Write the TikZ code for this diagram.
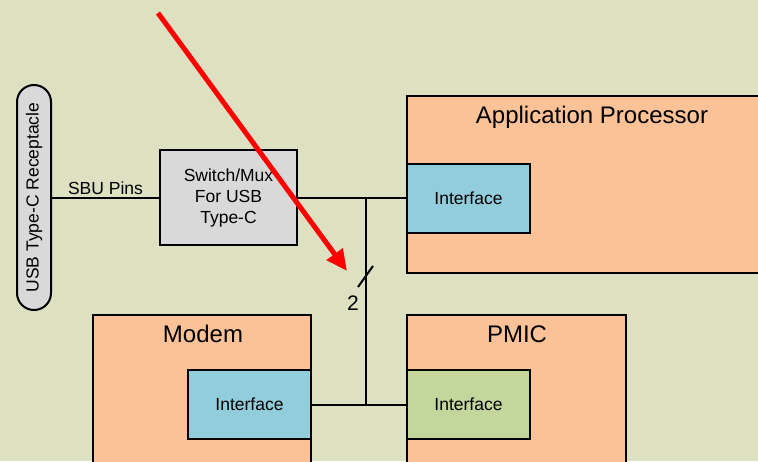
\documentclass[tikz,border=0pt]{standalone}
\usepackage{fontspec}
\setmainfont{Liberation Sans}
\usepackage{tikz}
\usetikzlibrary{positioning, arrows.meta, calc}
\definecolor{pagebg}{RGB}{222,224,194}
\definecolor{chipfill}{RGB}{250,194,150}
\definecolor{ifblue}{RGB}{146,205,220}
\definecolor{ifgreen}{RGB}{195,214,155}
\definecolor{muxgray}{RGB}{217,217,217}

\begin{document}
\begin{tikzpicture}[x=1pt, y=-1pt, line width=2pt,
    every node/.style={font=\fontsize{17.5}{21}\selectfont},
    chip/.style={draw, fill=chipfill, anchor=north west, inner sep=0pt},
    iface/.style={draw, fill=ifblue, anchor=north west, inner sep=0pt,
        minimum width=123pt, minimum height=69pt},
    chiptitle/.style={font=\fontsize{24}{28}\selectfont}]

    % Background and frame
    \fill[pagebg] (0,0) rectangle (758,461);
    \clip (0,0) rectangle (758,461);

    % Chips
    \node[chip, minimum width=372pt, minimum height=177pt] (ap) at (406,95) {};
    \node[chiptitle] at (592,117) {Application Processor};
    \node[chip, minimum width=218pt, minimum height=170pt] (modem) at (92,314) {};
    \node[chiptitle] at (203,334) {Modem};
    \node[chip, minimum width=219pt, minimum height=170pt] (pmic) at (406,314) {};
    \node[chiptitle] at (517,334) {PMIC};

    % Interfaces
    \node[iface] (apif) at (406,163) {};
    \node at (apif.center) {Interface};
    \node[iface] (modif) at (187,369) {};
    \node at (modif.center) {Interface};
    \node[iface, fill=ifgreen] (pmif) at (406,369) {};
    \node at (pmif.center) {Interface};

    % Receptacle and switch
    \node[draw, fill=muxgray, rounded corners=17pt, minimum width=34pt,
        minimum height=225pt, inner sep=0pt] (usb) at (34,197.5) {};
    \node[rotate=90] at (usb.center) {USB Type-C Receptacle};
    \node[draw, fill=muxgray, minimum width=137pt, minimum height=95pt,
        inner sep=0pt, align=center] (mux) at (228.5,197.5)
        {Switch/Mux\\For USB\\Type-C};

    % Connections
    \draw (usb.east) -- node[above=-1pt] {SBU Pins} (mux.west);
    \draw (mux.east) -- (mux.east -| apif.west);
    \draw (modif.east) -- (pmif.west);
    \coordinate (bus) at (366,0);
    \draw (bus |- apif.west) -- (bus |- pmif.west);

    % Bus width mark
    \coordinate (tick) at (366,276);
    \draw ([shift={(-8,11)}]tick) -- ([shift={(7,-10)}]tick);
    \node[font=\fontsize{21}{24}\selectfont] (buswidth) at (353,303) {2};

    % Pointer
    \coordinate (arrowtail) at (158,13);
    \coordinate (arrowtip) at (347,271);
    \draw[red, line width=5pt, -{Triangle[length=21pt, width=19pt]}]
        (arrowtail) -- (arrowtip);
\end{tikzpicture}
\end{document}
